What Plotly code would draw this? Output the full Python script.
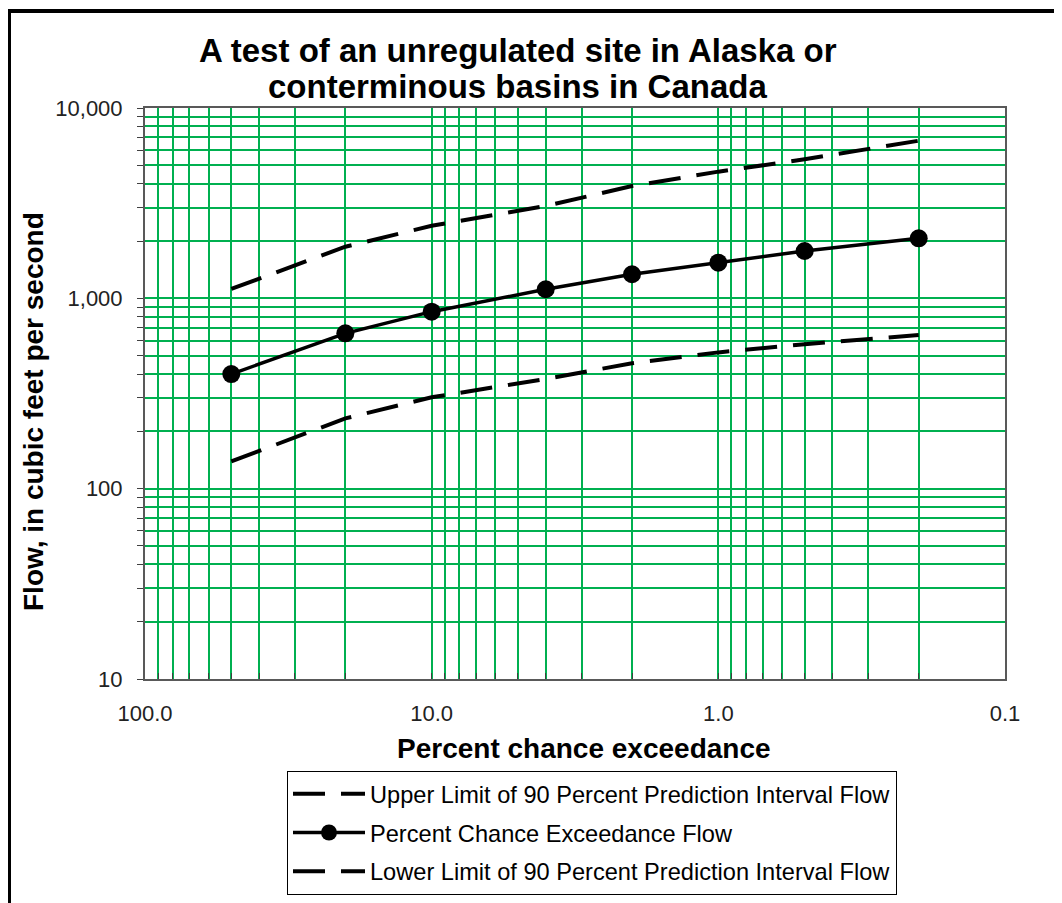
import plotly.graph_objects as go

# ---- data ----
pct_exceed = [50, 20, 10, 4, 2, 1, 0.5, 0.2]
flow = [400, 655, 851, 1116, 1338, 1539, 1773, 2068]
upper_90 = [1120, 1867, 2405, 3055, 3892, 4630, 5376, 6730]
lower_90 = [139, 234, 302, 377, 456, 520, 574, 642]

x_minor_vals = [90, 80, 70, 60, 50, 40, 30, 20, 9, 8, 7, 6, 5, 4, 3, 2,
                0.9, 0.8, 0.7, 0.6, 0.5, 0.4, 0.3, 0.2]
x_label_vals = [100, 10, 1, 0.1]
x_label_text = ["100.0", "10.0", "1.0", "0.1"]

y_label_vals = [10, 100, 1000, 10000]
y_label_text = ["10", "100", "1,000", "10,000"]
y_minor_vals = [20, 30, 40, 50, 60, 70, 80, 90,
                200, 300, 400, 500, 600, 700, 800, 900,
                2000, 3000, 4000, 5000, 6000, 7000, 8000, 9000]

FONT = "Arial, Liberation Sans, sans-serif"
GRID = "#00B050"
GW = 1.5
OFF = 8  # page body margin

fig = go.Figure()

names = ["Upper Limit of 90 Percent Prediction Interval Flow",
         "Percent Chance Exceedance Flow",
         "Lower Limit of 90 Percent Prediction Interval Flow"]

fig.add_trace(go.Scatter(x=pct_exceed, y=upper_90, mode="lines", name=names[0],
                         legendgroup="a",
                         line=dict(color="black", width=4, dash="32px,16px")))
fig.add_trace(go.Scatter(x=pct_exceed, y=flow, mode="lines+markers", name=names[1],
                         legendgroup="b",
                         line=dict(color="black", width=3.5),
                         marker=dict(color="black", size=18, symbol="circle")))
fig.add_trace(go.Scatter(x=pct_exceed, y=lower_90, mode="lines", name=names[2],
                         legendgroup="c",
                         line=dict(color="black", width=4, dash="32px,16px")))

fig.update_xaxes(type="log", range=[2, -1],
                 tickvals=x_label_vals, ticktext=x_label_text,
                 showgrid=True, gridcolor=GRID, gridwidth=GW,
                 ticks="inside", ticklen=6, tickcolor="#404040", tickwidth=1,
                 ticklabelstandoff=14,
                 minor=dict(tickvals=x_minor_vals, showgrid=True, gridcolor=GRID,
                            gridwidth=GW, ticks="inside", ticklen=6,
                            tickcolor="#404040", tickwidth=1),
                 showline=True, linecolor="#595959", linewidth=2, mirror=True,
                 tickfont=dict(family=FONT, size=22, color="#222"),
                 zeroline=False, automargin=False)

fig.update_yaxes(type="log", range=[1, 4],
                 tickvals=y_label_vals, ticktext=y_label_text,
                 showgrid=True, gridcolor=GRID, gridwidth=GW,
                 ticks="outside", ticklen=6, tickcolor="#404040", tickwidth=1,
                 ticklabelstandoff=10,
                 minor=dict(tickvals=y_minor_vals, showgrid=True, gridcolor=GRID,
                            gridwidth=GW, ticks="outside", ticklen=6,
                            tickcolor="#404040", tickwidth=1),
                 showline=True, linecolor="#595959", linewidth=2, mirror=True,
                 tickfont=dict(family=FONT, size=22, color="#222"),
                 zeroline=False, automargin=False)

# target pixel positions (window coords)
L, R, T, B = 145, 1005, 108, 679
W, H = 1062 - OFF, 903 - OFF

def px(xp):
    return (xp - L) / (R - L)

def py(yp):
    return (B - yp) / (B - T)

def cx(xp):
    return (xp - OFF) / W

def cy(yp):
    return 1 - (yp - OFF) / H

annotations = [
    dict(text="<b>A test of an unregulated site in Alaska or</b>", x=px(517.5), y=py(50),
         xref="paper", yref="paper", showarrow=False, xanchor="center", yanchor="middle",
         font=dict(family=FONT, size=33, color="black")),
    dict(text="<b>conterminous basins in Canada</b>", x=px(517.5), y=py(86),
         xref="paper", yref="paper", showarrow=False, xanchor="center", yanchor="middle",
         font=dict(family=FONT, size=33, color="black")),
    dict(text="<b>Flow, in cubic feet per second</b>", x=px(33), y=py(412),
         xref="paper", yref="paper", showarrow=False, xanchor="center", yanchor="middle",
         textangle=-90, font=dict(family=FONT, size=28, color="black")),
    dict(text="<b>Percent chance exceedance</b>", x=px(584), y=py(748),
         xref="paper", yref="paper", showarrow=False, xanchor="center", yanchor="middle",
         font=dict(family=FONT, size=28, color="black")),
]

shapes = [
    dict(type="rect", xref="paper", yref="paper",
         x0=px(9), x1=px(1075), y0=py(11), y1=py(920),
         line=dict(color="black", width=4), fillcolor="rgba(0,0,0,0)", layer="above"),
]

fig.update_layout(
    width=W, height=H,
    margin=dict(l=L - OFF, r=W - (R - OFF), t=T - OFF, b=H - (B - OFF), autoexpand=False),
    paper_bgcolor="white", plot_bgcolor="white",
    showlegend=True,
    legend=dict(x=cx(287), y=cy(771), xanchor="left", yanchor="top",
                xref="container", yref="container",
                bordercolor="black", borderwidth=1, bgcolor="white",
                font=dict(family=FONT, size=23.6, color="black"),
                itemwidth=72, tracegroupgap=5, traceorder="grouped"),
    annotations=annotations,
    shapes=shapes,
)

fig.write_html("out.html")
